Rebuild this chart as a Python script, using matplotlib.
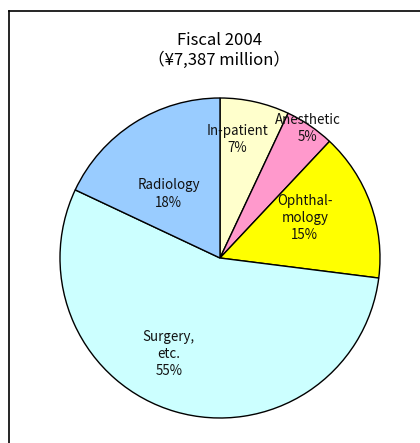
import matplotlib

matplotlib.use("Agg")
import matplotlib.pyplot as plt
from matplotlib.lines import Line2D

# slices clockwise from 12 o'clock
CATEGORIES = ["In-patient", "Anesthetic", "Ophthal-\nmology", "Surgery,\netc.", "Radiology"]
SHARES = [7, 5, 15, 55, 18]
COLORS = ["#FFFFCC", "#FF99CC", "#FFFF00", "#CCFFFF", "#99CCFF"]
TITLE = "Fiscal 2004\n（¥7,387 million）"

# label placement (data units, pie radius = 1)
LABEL_XY = [(0.11, 0.74), (0.55, 0.81), (0.53, 0.25), (-0.32, -0.60), (-0.32, 0.40)]

plt.rcParams["font.family"] = ["Noto Sans CJK JP", "DejaVu Sans"]

W, H = 420, 443
fig = plt.figure(figsize=(W / 100, H / 100), dpi=100)

# pie: centre (220, 258) px, radius 160 px
cx, cy, r = 220, 258, 160
ax = fig.add_axes([(cx - r) / W, (H - cy - r) / H, 2 * r / W, 2 * r / H])
ax.pie(
    SHARES,
    colors=COLORS,
    startangle=90,
    counterclock=False,
    wedgeprops={"edgecolor": "black", "linewidth": 1.0},
)
ax.set_xlim(-1, 1)
ax.set_ylim(-1, 1)
ax.set_aspect("auto")
ax.axis("off")

for name, share, (x, y) in zip(CATEGORIES, SHARES, LABEL_XY):
    ax.text(x, y, f"{name}\n{share}%", ha="center", va="center",
            fontsize=9.6, linespacing=1.3, color="#111111")

fig.text(219 / W, 1 - 50 / H, TITLE, ha="center", va="center",
         fontsize=12, linespacing=1.2)

# chart-area border (continues past the right and bottom edges)
fx0, fy0 = 9 / W, 1 - 11 / H
fig.add_artist(Line2D([fx0, 1.01], [fy0, fy0], transform=fig.transFigure, color="black", linewidth=1.2))
fig.add_artist(Line2D([fx0, fx0], [fy0, -0.01], transform=fig.transFigure, color="black", linewidth=1.2))

fig.savefig("out.png", dpi=100)
